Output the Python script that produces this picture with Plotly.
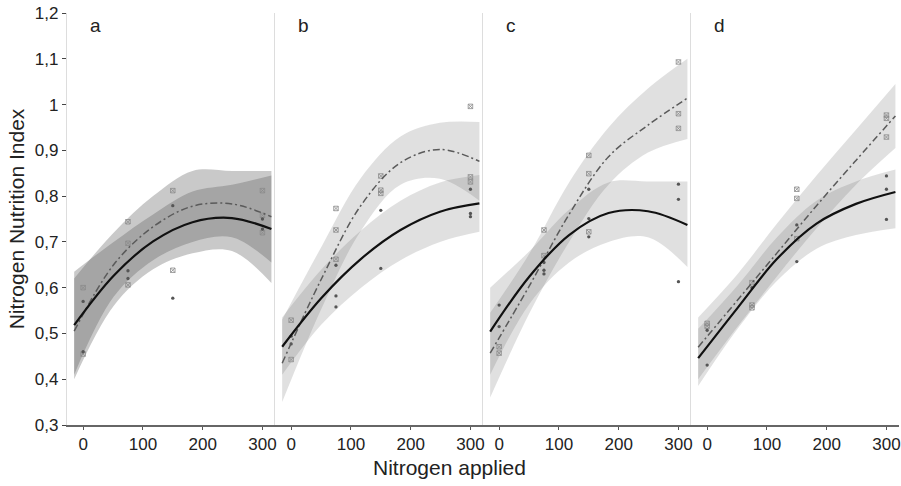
import plotly.graph_objects as go

# ---------------- data ----------------
panels = ["a", "b", "c", "d"]
x_grid = [-15, 51, 117, 183, 249, 315]

# fitted curves (solid = dots series, dash = crosses series)
solid_fit = {
    "a": [0.518, 0.626, 0.701, 0.743, 0.752, 0.728],
    "b": [0.471, 0.578, 0.663, 0.726, 0.766, 0.784],
    "c": [0.504, 0.625, 0.715, 0.763, 0.767, 0.737],
    "d": [0.446, 0.556, 0.663, 0.740, 0.783, 0.809],
}
solid_lo = {
    "a": [0.400, 0.560, 0.640, 0.675, 0.680, 0.610],
    "b": [0.410, 0.520, 0.600, 0.660, 0.700, 0.722],
    "c": [0.410, 0.565, 0.655, 0.700, 0.710, 0.645],
    "d": [0.385, 0.510, 0.615, 0.685, 0.715, 0.730],
}
solid_hi = {
    "a": [0.635, 0.700, 0.760, 0.810, 0.825, 0.845],
    "b": [0.535, 0.640, 0.725, 0.790, 0.830, 0.846],
    "c": [0.600, 0.680, 0.770, 0.830, 0.832, 0.832],
    "d": [0.510, 0.605, 0.710, 0.790, 0.832, 0.858],
}
dash_fit = {
    "a": [0.505, 0.650, 0.733, 0.778, 0.783, 0.755],
    "b": [0.435, 0.620, 0.780, 0.873, 0.902, 0.876],
    "c": [0.457, 0.605, 0.760, 0.886, 0.955, 1.014],
    "d": [0.470, 0.573, 0.676, 0.779, 0.878, 0.975],
}
dash_lo = {
    "a": [0.410, 0.580, 0.660, 0.700, 0.710, 0.655],
    "b": [0.350, 0.555, 0.725, 0.825, 0.838, 0.790],
    "c": [0.360, 0.545, 0.700, 0.825, 0.895, 0.925],
    "d": [0.400, 0.515, 0.625, 0.730, 0.825, 0.905],
}
dash_hi = {
    "a": [0.620, 0.720, 0.800, 0.855, 0.855, 0.855],
    "b": [0.530, 0.690, 0.840, 0.930, 0.960, 0.962],
    "c": [0.545, 0.675, 0.830, 0.950, 1.035, 1.100],
    "d": [0.535, 0.630, 0.740, 0.845, 0.945, 1.045],
}

# observations: crosses and dots
cross_x = {
    "a": [0, 0, 75, 75, 75, 150, 150, 300, 300, 300],
    "b": [0, 0, 75, 75, 75, 150, 150, 150, 300, 300, 300],
    "c": [0, 0, 75, 75, 150, 150, 150, 300, 300, 300],
    "d": [0, 0, 75, 75, 75, 150, 150, 150, 300, 300, 300],
}
cross_y = {
    "a": [0.600, 0.455, 0.744, 0.697, 0.606, 0.812, 0.638, 0.812, 0.758, 0.720],
    "b": [0.529, 0.443, 0.773, 0.726, 0.662, 0.844, 0.813, 0.806, 0.996, 0.842, 0.831],
    "c": [0.471, 0.457, 0.726, 0.670, 0.889, 0.849, 0.722, 1.093, 0.980, 0.948],
    "d": [0.522, 0.516, 0.611, 0.562, 0.556, 0.815, 0.795, 0.707, 0.977, 0.970, 0.929],
}
dot_x = {
    "a": [0, 0, 75, 75, 150, 150, 300, 300],
    "b": [0, 0, 75, 75, 75, 150, 150, 300, 300, 300],
    "c": [0, 0, 75, 75, 75, 150, 150, 150, 300, 300, 300],
    "d": [0, 0, 75, 150, 150, 300, 300, 300],
}
dot_y = {
    "a": [0.570, 0.460, 0.637, 0.620, 0.779, 0.577, 0.750, 0.728],
    "b": [0.494, 0.477, 0.649, 0.582, 0.558, 0.769, 0.642, 0.815, 0.762, 0.755],
    "c": [0.562, 0.515, 0.655, 0.638, 0.630, 0.815, 0.751, 0.711, 0.826, 0.793, 0.613],
    "d": [0.507, 0.431, 0.600, 0.737, 0.657, 0.844, 0.815, 0.749],
}

x_ticks = [0, 100, 200, 300]
y_ticks = [0.3, 0.4, 0.5, 0.6, 0.7, 0.8, 0.9, 1.0, 1.1, 1.2]
y_ticktext = ["0,3", "0,4", "0,5", "0,6", "0,7", "0,8", "0,9", "1", "1,1", "1,2"]

# ---------------- styling ----------------
FONT = "Liberation Sans, Arial, sans-serif"
band_fill = {"a": "rgba(90,90,90,0.33)", "b": "rgba(90,90,90,0.19)",
             "c": "rgba(90,90,90,0.19)", "d": "rgba(90,90,90,0.19)"}

fig = go.Figure()
n = len(panels)
for i, p in enumerate(panels):
    xa = "x" if i == 0 else f"x{i+1}"
    ya = "y" if i == 0 else f"y{i+1}"
    for lo, hi in ((solid_lo[p], solid_hi[p]), (dash_lo[p], dash_hi[p])):
        fig.add_trace(go.Scatter(x=x_grid, y=lo, mode="lines", line=dict(width=0, shape="spline"),
                                 hoverinfo="skip", showlegend=False, xaxis=xa, yaxis=ya))
        fig.add_trace(go.Scatter(x=x_grid, y=hi, mode="lines", line=dict(width=0, shape="spline"),
                                 fill="tonexty", fillcolor=band_fill[p],
                                 hoverinfo="skip", showlegend=False, xaxis=xa, yaxis=ya))
    fig.add_trace(go.Scatter(x=cross_x[p], y=cross_y[p], mode="markers",
                             marker=dict(symbol="square-x-open", size=4.5, color="#8a8a8a",
                                         line=dict(width=0.8)),
                             showlegend=False, xaxis=xa, yaxis=ya))
    fig.add_trace(go.Scatter(x=dot_x[p], y=dot_y[p], mode="markers",
                             marker=dict(symbol="circle", size=3.3, color="#555555"),
                             showlegend=False, xaxis=xa, yaxis=ya))
    fig.add_trace(go.Scatter(x=x_grid, y=dash_fit[p], mode="lines",
                             line=dict(color="#5a5a5a", width=1.5, shape="spline",
                                       dash="7px,3px,2px,3px"),
                             showlegend=False, xaxis=xa, yaxis=ya))
    fig.add_trace(go.Scatter(x=x_grid, y=solid_fit[p], mode="lines",
                             line=dict(color="#111111", width=2.2, shape="spline"),
                             showlegend=False, xaxis=xa, yaxis=ya))

layout = dict(
    width=901, height=486,
    margin=dict(l=67, r=2, t=13, b=61, autoexpand=False),
    paper_bgcolor="white", plot_bgcolor="white",
    font=dict(family=FONT, size=17, color="#222222"),
    showlegend=False,
)
w = 1.0 / n
for i, p in enumerate(panels):
    xk = "xaxis" if i == 0 else f"xaxis{i+1}"
    yk = "yaxis" if i == 0 else f"yaxis{i+1}"
    layout[xk] = dict(
        domain=[i * w, (i + 1) * w], range=[-27, 321],
        tickvals=x_ticks, ticks="outside", ticklen=3, tickcolor="#555555",
        showline=True, linecolor="#666666", linewidth=2,
        showgrid=False, zeroline=False, automargin=False,
        tickfont=dict(size=17, color="#222222"),
        anchor="y" if i == 0 else f"y{i+1}",
    )
    yd = dict(
        range=[0.3, 1.2], tickvals=y_ticks, ticktext=y_ticktext,
        showline=True, linecolor="#dddddd", linewidth=1.2,
        showgrid=False, zeroline=False, automargin=False,
        anchor="x" if i == 0 else f"x{i+1}",
    )
    if i == 0:
        yd.update(ticks="outside", ticklen=4, tickcolor="#444444",
                  tickfont=dict(size=17, color="#222222"),
                  title=dict(text="Nitrogen Nutrition Index", font=dict(size=21), standoff=4))
    else:
        yd.update(matches="y", showticklabels=False, ticks="")
    layout[yk] = yd
fig.update_layout(**layout)

for i, p in enumerate(panels):
    fig.add_annotation(text=p, xref=f"x{'' if i == 0 else i+1} domain", yref="paper",
                       x=0.1, y=1.0, xanchor="left", yanchor="top", showarrow=False,
                       font=dict(size=19, color="#222222"))
fig.add_annotation(text="Nitrogen applied", xref="paper", yref="paper",
                   x=0.46, y=-0.104, xanchor="center", yanchor="middle", showarrow=False,
                   font=dict(size=21, color="#222222"))

fig.write_html("out.html", config={"displayModeBar": False},
               post_script="document.body.style.margin='0px';")
